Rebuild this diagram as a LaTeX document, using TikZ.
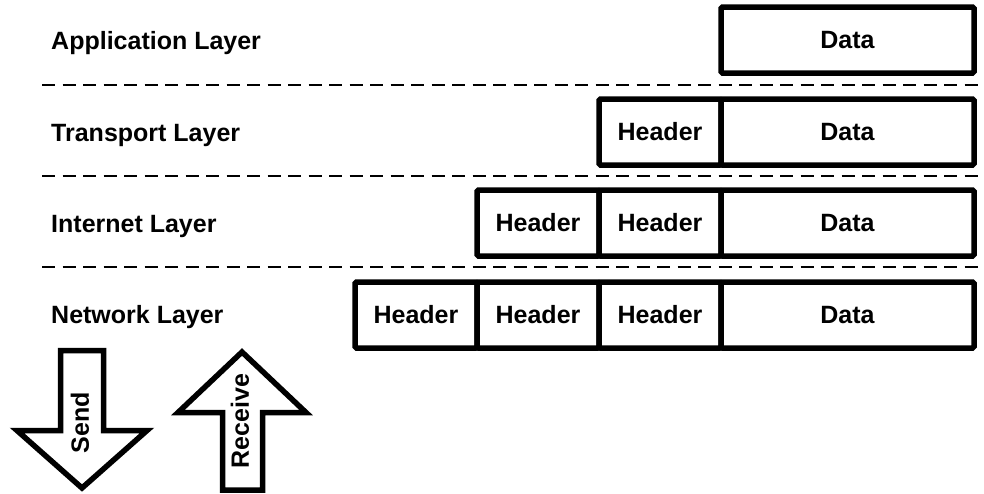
\documentclass[tikz,border=0pt]{standalone}
\usepackage{fontspec}
\setmainfont{Liberation Sans}
\usetikzlibrary{positioning}
\tikzset{
  every node/.style={font=\bfseries\fontsize{25}{29}\selectfont},
  cell/.style={draw,line width=5.5pt,rounded corners=1.5pt,minimum height=66pt,inner sep=0pt,outer sep=0pt},
  hdr/.style={cell,minimum width=122pt},
  dat/.style={cell,minimum width=253pt},
  sep/.style={line width=2pt,dash pattern=on 13pt off 7.5pt},
  bigarrow/.style={line width=5.5pt,line join=miter,fill=white}
}
\begin{document}
\begin{tikzpicture}[x=1pt,y=-1pt]%1pt = 1 像素
\useasboundingbox (0,0) rectangle (984,493);
% 各层名称
\node[anchor=base west,inner sep=0pt] (lapp) at (51,49) {Application Layer};
\node[anchor=base west,inner sep=0pt] (ltra) at (51,141) {Transport Layer};
\node[anchor=base west,inner sep=0pt] (lint) at (51,232) {Internet Layer};
\node[anchor=base west,inner sep=0pt] (lnet) at (51,323) {Network Layer};
% 虚线分隔
\draw[sep] (42,85) -- (980,85);
\draw[sep] (42,176) -- (980,176);
\draw[sep] (42,267) -- (980,267);
% 数据包
\node[dat] (dapp) at (847.5,40) {Data};
\node[dat] (dtra) at (847.5,132) {Data};
\node[hdr,left=0pt of dtra] (htra) {Header};
\node[dat] (dint) at (847.5,223) {Data};
\node[hdr,left=0pt of dint] (hint1) {Header};
\node[hdr,left=0pt of hint1] (hint2) {Header};
\node[dat] (dnet) at (847.5,315) {Data};
\node[hdr,left=0pt of dnet] (hnet1) {Header};
\node[hdr,left=0pt of hnet1] (hnet2) {Header};
\node[hdr,left=0pt of hnet2] (hnet3) {Header};
% 发送与接收箭头
\draw[bigarrow] (60.5,350.5) -- (103.5,350.5) -- (103.5,430.5) -- (147,430.5)
  -- (82,488) -- (17,430.5) -- (60.5,430.5) -- cycle;
\node[rotate=90,inner sep=0pt] (send) at (80,423) {Send};
\draw[bigarrow] (222.5,490) -- (222.5,412.5) -- (178,412.5) -- (242,352)
  -- (306,412.5) -- (262.5,412.5) -- (262.5,490) -- cycle;
\node[rotate=90,inner sep=0pt] (recv) at (240,421) {Receive};
\end{tikzpicture}
\end{document}
